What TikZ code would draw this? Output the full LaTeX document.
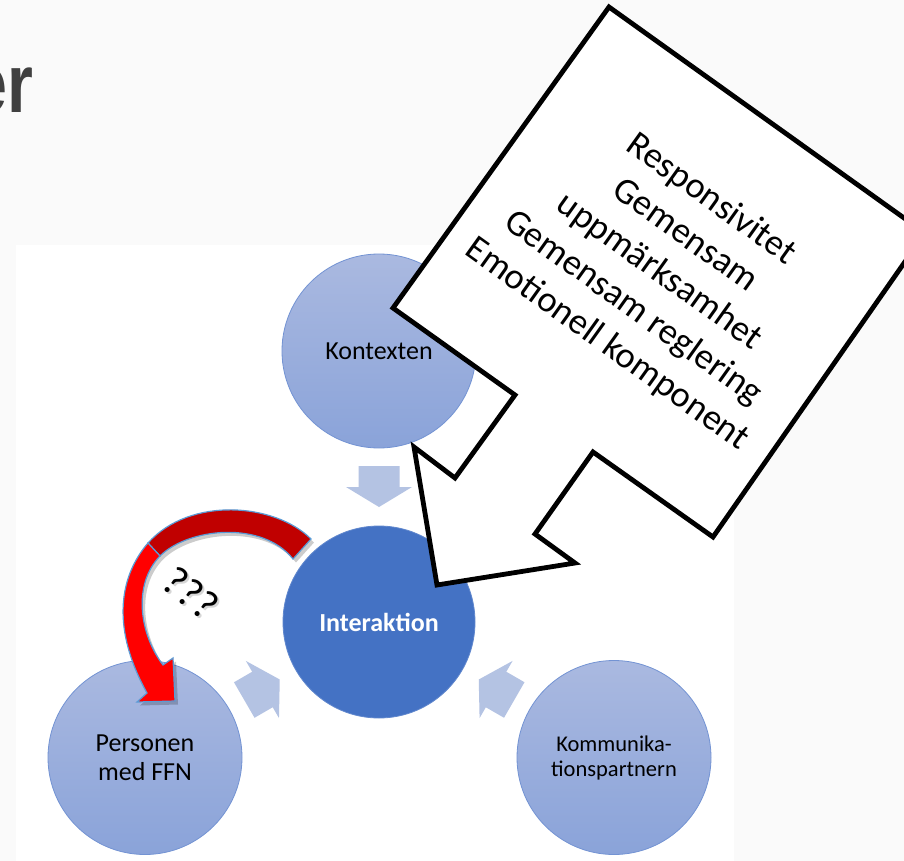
\documentclass[tikz,border=0pt]{standalone}
\usepackage{fontspec}
\setmainfont{Carlito}
\newfontfamily\headfont[FakeStretch=0.8]{Liberation Sans}
\usetikzlibrary{calc}

\definecolor{pagegray}{HTML}{FAFAFA}
\definecolor{ringtop}{HTML}{AAB9E0}
\definecolor{ringbot}{HTML}{8AA3D9}
\definecolor{ringedge}{HTML}{7393D3}
\definecolor{hubblue}{HTML}{4472C4}
\definecolor{flowblue}{HTML}{B4C3E3}
\definecolor{darkred}{HTML}{C00000}
\definecolor{brightred}{HTML}{FF0000}
\definecolor{rededge}{HTML}{5B9BD5}
\definecolor{headgray}{HTML}{404040}

\tikzset{
  ring/.style={circle, minimum size=194pt, inner sep=0pt, draw=ringedge,
    line width=0.8pt, top color=ringtop, bottom color=ringbot,
    align=center, text=black, font=\fontsize{26}{29}\selectfont},
  hub/.style={circle, minimum size=192pt, inner sep=0pt, fill=hubblue,
    draw=hubblue!85!white, line width=0.8pt, text=white,
    font=\fontsize{26}{30}\selectfont\bfseries},
  headtext/.style={inner sep=0pt, text=headgray,
    font=\headfont\bfseries\fontsize{83}{90}\selectfont},
  callout/.style={draw=black, fill=white, line width=4.8pt, line join=miter},
  callouttext/.style={align=center, inner sep=0pt, text=black,
    font=\fontsize{36.5}{44.6}\selectfont},
  redback/.style={fill=darkred, draw=rededge, line width=1.2pt},
  redfront/.style={fill=brightred, draw=rededge, line width=1.2pt},
  redshadow/.style={fill=black, opacity=0.2},
  qtext/.style={inner sep=0pt, font=\fontsize{42}{48}\selectfont},
  gaparrow/.pic={
    \fill[flowblue] (-20.5,-20.5) -- (0.5,-20.5) -- (0.5,-33) -- (20.5,0)
      -- (0.5,33) -- (0.5,20.5) -- (-20.5,20.5) -- cycle;
  }
}

\begin{document}
\begin{tikzpicture}[x=1pt, y=-1pt]
\useasboundingbox (0,0) rectangle (904,861);
% page and white panel
\fill[pagegray] (0,0) rectangle (904,861);
\fill[white] (16,245) rectangle (734,861);

% heading fragment
\node[headtext, anchor=base east] (heading) at (33.5,112.5) {er};

% the four circles
\node[ring] (ctx) at (379,351) {Kontexten};
\node[hub] (inter) at (379,622) {Interaktion};
\node[ring] (pers) at (145,757.5) {Personen\\med FFN};
\node[ring, font=\fontsize{22.5}{25}\selectfont] (komm) at (614,757.5)
  {Kommunika-\\tionspartnern};

% block arrows in the gaps, pointing at the hub
\foreach \src in {ctx,pers,komm}
  \path let \p1=($(inter)-(\src)$), \n1={atan2(\y1,\x1)} in
    ($(\src)!0.5!(inter)$) pic[rotate=\n1] {gaparrow};

% speech callout with its pointer
\draw[callout] (609,7) -- (925,233) -- (713,537) -- (593,452) -- (535,534)
  -- (575,563) -- (437,585) -- (414,447) -- (455,478) -- (515,395)
  -- (393,308) -- cycle;
\node[callouttext, rotate=-35.6] (points) at (659,272)
  {Responsivitet\\Gemensam\\uppmärksamhet\\Gemensam reglering\\Emotionell komponent};

% curved red arrow: shadow, back band, front band with head
\fill[redshadow, shift={(3,3.5)}] (311,539) .. controls (275,503) and (190,496) .. (148,543)
  .. controls (118,578) and (112,630) .. (147,693) -- (137,702) -- (175,701)
  -- (173,658) -- (163,665) .. controls (140,635) and (132,585) .. (160,556)
  .. controls (188,528) and (262,520) .. (293,559) -- cycle;
\filldraw[redback] (311,539) .. controls (275,503) and (190,496) .. (148,543)
  -- (160,556) .. controls (188,528) and (262,520) .. (293,559) -- cycle;
\filldraw[redfront] (148,543) .. controls (118,578) and (112,630) .. (147,693)
  -- (137,702) -- (175,701) -- (173,658) -- (163,665)
  .. controls (140,635) and (132,585) .. (160,556) -- cycle;

% question marks with their soft shadow
\node[qtext, rotate=-38, text=black, opacity=0.16] (puzzleshade) at (193,595.5) {???};
\node[qtext, rotate=-38] (puzzle) at (191,593) {???};
\end{tikzpicture}
\end{document}
